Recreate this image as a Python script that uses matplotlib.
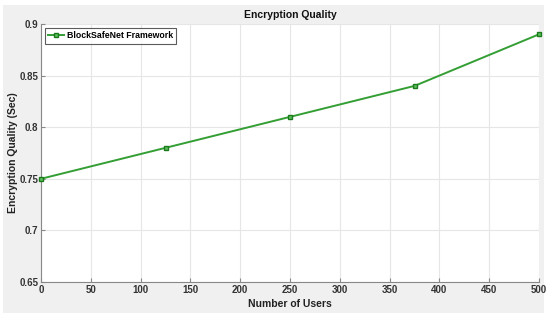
import matplotlib
matplotlib.use("Agg")
import matplotlib.pyplot as plt
from matplotlib.patches import Rectangle

users = [0, 125, 250, 375, 500]
quality = [0.75, 0.78, 0.81, 0.84, 0.89]
xticks = [0, 50, 100, 150, 200, 250, 300, 350, 400, 450, 500]
yticks = [0.65, 0.7, 0.75, 0.8, 0.85, 0.9]
ytick_labels = ["0.65", "0.7", "0.75", "0.8", "0.85", "0.9"]

plt.rcParams['font.family'] = ['Liberation Sans', 'DejaVu Sans']

fig = plt.figure(figsize=(5.5, 3.15), dpi=100, facecolor='white')
fig.patches.append(Rectangle((3/550, 2/315), 541/550, 308/315, transform=fig.transFigure,
                             facecolor='#f0f0f0', edgecolor='none', zorder=-10))
ax = fig.add_axes([41/550, 1 - 282/315, 498/550, 258/315])
ax.set_facecolor('white')

ax.plot(users, quality, color='#339e33', linewidth=1.4, marker='s', markersize=3.2,
        markerfacecolor='#5cbf5c', markeredgecolor='#1b7a1b', markeredgewidth=1.0,
        label='BlockSafeNet Framework', clip_on=False, zorder=3)

ax.set_xlim(0, 500)
ax.set_ylim(0.65, 0.9)
ax.set_xticks(xticks)
ax.set_yticks(yticks)
ax.set_yticklabels(ytick_labels)
ax.grid(True, color='#e6e6e6', linewidth=0.8)
ax.set_axisbelow(True)

for s in ['top', 'right']:
    ax.spines[s].set_visible(False)
for s in ['left', 'bottom']:
    ax.spines[s].set_color('#888888')
    ax.spines[s].set_linewidth(0.8)

ax.tick_params(direction='in', length=3, width=0.8, color='#888888',
               labelsize=7, pad=2, labelcolor='#333333')
for lab in ax.get_xticklabels() + ax.get_yticklabels():
    lab.set_fontweight('bold')

ax.set_title('Encryption Quality', fontsize=7.5, fontweight='bold', pad=4, color='#111111')
ax.set_xlabel('Number of Users', fontsize=7.5, fontweight='bold', labelpad=3, color='#222222')
ax.set_ylabel('Encryption Quality (Sec)', fontsize=7.5, fontweight='bold', labelpad=1, color='#222222')

leg = ax.legend(loc='upper left', fontsize=6.3, frameon=True, fancybox=False,
                borderpad=0.35, handlelength=1.8, handletextpad=0.3,
                borderaxespad=0.5)
leg.get_frame().set_edgecolor('#333333')
leg.get_frame().set_linewidth(0.8)
for t in leg.get_texts():
    t.set_fontweight('bold')

fig.savefig('out.png', dpi=100, facecolor=fig.get_facecolor())
